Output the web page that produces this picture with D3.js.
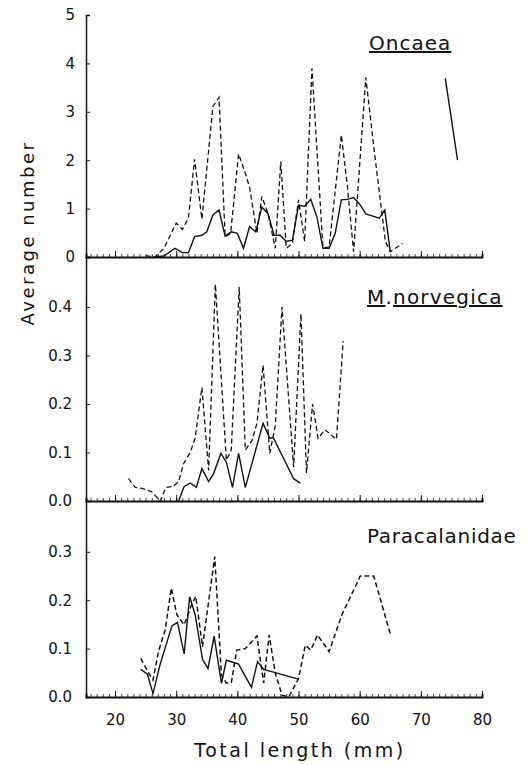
<!DOCTYPE html>
<html>
<head>
<meta charset="utf-8">
<style>
    body { margin: 0; background: #fff; }
    text { font-family: "DejaVu Sans", sans-serif; fill: #111; }
</style>
</head>
<body>
    <div id="chart"></div>

    <script src="https://d3js.org/d3.v7.min.js"></script>
    <script type="text/javascript">
        // Oncaea
        var oncDashX = [25, 26.5, 28, 30, 31, 32, 33, 34.2, 36, 37, 38, 38.9, 40.2, 41.3, 42, 43.2, 44, 45, 46.2, 47.1, 48, 49, 50, 51, 52.2, 54, 55, 57, 58, 59, 61, 62.3, 64.2, 65, 67];
        var oncDashY = [0.03, 0, 0.18, 0.70, 0.57, 0.80, 2.02, 0.78, 3.11, 3.30, 0.42, 0.49, 2.13, 1.73, 1.44, 0.49, 1.25, 0.9, 0.18, 1.97, 0.18, 0.28, 1.18, 0.32, 3.90, 0.18, 0.21, 2.52, 1.45, 0.11, 3.71, 2.28, 0.32, 0.11, 0.28];
        var oncSolidX = [26.5, 28, 29.8, 31, 32, 33, 34.2, 35, 36, 37, 38, 39, 40, 41, 42, 43, 44, 45, 46, 47, 48, 49, 50, 51, 52, 53, 54, 55, 56, 57, 58, 59, 60, 61, 63.2, 64.1, 65];
        var oncSolidY = [0, 0.02, 0.18, 0.09, 0.09, 0.42, 0.45, 0.52, 0.87, 0.97, 0.43, 0.52, 0.49, 0.18, 0.63, 0.52, 1.03, 0.9, 0.45, 0.45, 0.32, 0.35, 1.07, 1.05, 1.19, 0.83, 0.18, 0.18, 0.49, 1.18, 1.19, 1.23, 1.09, 0.89, 0.80, 0.97, 0.11];
        var oncExtraX = [74, 76];
        var oncExtraY = [3.69, 2.0];

        // M. norvegica
        var norDashX = [22.2, 23.3, 24.4, 26, 27.4, 28.3, 29.5, 30.4, 31.2, 32.3, 33.1, 34.2, 35.3, 36.4, 38.2, 39, 40.3, 41.3, 42.4, 43.2, 44.2, 45.3, 46.2, 47.3, 49.2, 50.4, 51.3, 52.3, 53.2, 54.3, 56.2, 57.3];
        var norDashY = [0.046, 0.028, 0.026, 0.019, 0.0, 0.028, 0.03, 0.04, 0.077, 0.10, 0.13, 0.234, 0.063, 0.447, 0.084, 0.105, 0.441, 0.105, 0.125, 0.16, 0.28, 0.098, 0.156, 0.40, 0.07, 0.386, 0.058, 0.20, 0.129, 0.147, 0.127, 0.33];
        var norSolidX = [30.4, 31.3, 32.3, 33.3, 34.2, 35.3, 36.1, 37.3, 38.2, 39.2, 40.2, 41.3, 44.2, 45.3, 45.9, 49.2, 50.3];
        var norSolidY = [0, 0.03, 0.037, 0.028, 0.067, 0.04, 0.056, 0.098, 0.08, 0.028, 0.098, 0.028, 0.16, 0.13, 0.13, 0.046, 0.037];

        // Paracalanidae
        var parDashX = [24.2, 25.3, 26.2, 27.1, 28.2, 29.2, 30.1, 31.3, 32.4, 33.2, 34.3, 36.3, 37.4, 38.2, 39, 39.9, 41.3, 43.2, 44.3, 45.2, 46.2, 47.3, 48.4, 50, 51.1, 52, 53.1, 55, 57.1, 60.1, 62.3, 65.1];
        var parDashY = [0.08, 0.054, 0.035, 0.094, 0.139, 0.225, 0.17, 0.149, 0.187, 0.208, 0.104, 0.29, 0.045, 0.029, 0.029, 0.097, 0.10, 0.126, 0.029, 0.128, 0.049, 0.004, 0.0, 0.038, 0.107, 0.097, 0.128, 0.094, 0.17, 0.25, 0.25, 0.126];
        var parSolidX = [24.2, 25.3, 26.2, 27.4, 29.3, 30.2, 31.3, 32.2, 33.1, 34.3, 35.2, 36.2, 37.4, 38.2, 40.2, 42.3, 43.3, 44.3, 50];
        var parSolidY = [0.057, 0.047, 0.007, 0.069, 0.147, 0.154, 0.089, 0.207, 0.17, 0.078, 0.059, 0.126, 0.028, 0.076, 0.068, 0.02, 0.073, 0.057, 0.037];

        var xTicks = [20, 30, 40, 50, 60, 70, 80];
        var oncTicks = [0, 1, 2, 3, 4, 5];
        var norTicks = [0, 0.1, 0.2, 0.3, 0.4];
        var parTicks = [0, 0.1, 0.2, 0.3];

        var w = 529;
        var h = 765;

        var svg = d3.select('#chart')
            .append('svg')
            .attr('width', w)
            .attr('height', h)
            .attr('viewBox', "0 0 " + w + " " + h);

        var x = d3.scaleLinear().domain([15.25, 80]).range([86, 482]);

        var panels = [
            { top: 15, bottom: 257, max: 5, ticks: oncTicks, fmt: d3.format("d"), pad: 11,
              series: [[oncDashX, oncDashY, true], [oncSolidX, oncSolidY, false], [oncExtraX, oncExtraY, false]] },
            { top: 257, bottom: 501, max: 0.503, ticks: norTicks, fmt: d3.format(".1f"), pad: 14,
              series: [[norDashX, norDashY, true], [norSolidX, norSolidY, false]] },
            { top: 501, bottom: 697, max: 0.405, ticks: parTicks, fmt: d3.format(".1f"), pad: 14,
              series: [[parDashX, parDashY, true], [parSolidX, parSolidY, false]] }
        ];

        panels.forEach(function (p, pi) {
            var y = d3.scaleLinear().domain([0, p.max]).range([p.bottom, p.top]);

            // y axis, ticks pointing in
            var ya = svg.append('g')
                .attr('transform', 'translate(86,0)')
                .call(d3.axisLeft(y).tickValues(p.ticks).tickFormat(p.fmt).tickSize(-4).tickPadding(p.pad));
            ya.select('.domain').attr('stroke-width', 1.5).attr('stroke', '#111');
            ya.selectAll('.tick line').attr('stroke', '#111');
            ya.selectAll('text').style('font-size', '15px').style('font-family', '"DejaVu Sans", sans-serif').attr('fill', '#111');

            // minor ticks every mm
            var xm = svg.append('g')
                .attr('transform', 'translate(0,' + p.bottom + ')')
                .call(d3.axisBottom(x).tickValues(d3.range(16, 81)).tickSize(-3).tickFormat(""));
            xm.select('.domain').attr('stroke-width', 2).attr('stroke', '#111');
            xm.selectAll('.tick line').attr('stroke', '#111').attr('stroke-width', 0.8);

            var xa = svg.append('g')
                .attr('transform', 'translate(0,' + p.bottom + ')')
                .call(d3.axisBottom(x).tickValues(xTicks).tickSize(-6).tickPadding(17)
                    .tickFormat(pi == 2 ? d3.format("d") : ""));
            xa.select('.domain').remove();
            xa.selectAll('.tick line').attr('stroke', '#111');
            xa.selectAll('text').style('font-size', '15px').style('font-family', '"DejaVu Sans", sans-serif').attr('fill', '#111');

            p.series.forEach(function (s) {
                var pts = d3.zip(s[0], s[1]);
                svg.append('path')
                    .datum(pts)
                    .attr('fill', 'none')
                    .attr('stroke', '#111')
                    .attr('stroke-width', s[2] ? (pi == 2 ? 1.5 : 1.3) : 1.4)
                    .attr('stroke-dasharray', s[2] ? '5,3' : null)
                    .attr('d', d3.line()
                        .x(function (d) { return x(d[0]); })
                        .y(function (d) { return y(d[1]); }));
            });
        });

        // panel titles
        var t1 = svg.append('text').attr('x', 369).attr('y', 50)
            .style('font-size', '20px').style('letter-spacing', '1px');
        t1.append('tspan').text('Oncaea').style('text-decoration', 'underline');

        var t2 = svg.append('text').attr('x', 367).attr('y', 304)
            .style('font-size', '20px').style('letter-spacing', '1.2px');
        t2.append('tspan').text('M').style('text-decoration', 'underline');
        t2.append('tspan').text('.');
        t2.append('tspan').text('norvegica').style('text-decoration', 'underline');

        svg.append('text').attr('x', 367).attr('y', 543)
            .style('font-size', '20px').style('letter-spacing', '0.7px')
            .text('Paracalanidae');

        // axis titles
        svg.append('text')
            .attr('transform', 'translate(34,233) rotate(-90)')
            .attr('text-anchor', 'middle')
            .style('font-size', '18px')
            .style('letter-spacing', '2.5px')
            .text('Average  number');

        svg.append('text')
            .attr('x', 300)
            .attr('y', 757)
            .attr('text-anchor', 'middle')
            .style('font-size', '19px')
            .style('letter-spacing', '2.5px')
            .text('Total length (mm)');
    </script>
</body>
</html>
